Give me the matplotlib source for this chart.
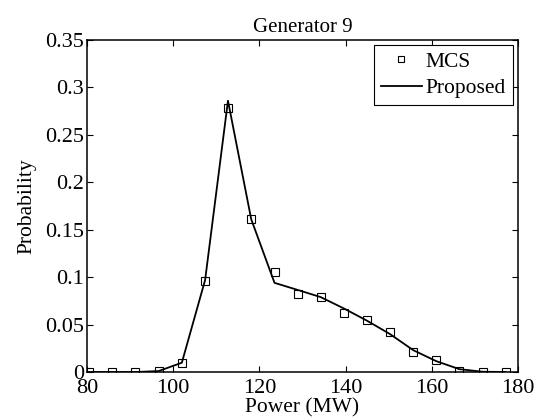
import matplotlib
matplotlib.use("Agg")
import matplotlib.pyplot as plt
from matplotlib.ticker import FormatStrFormatter

plt.rcParams.update({"font.family": "Liberation Serif", "font.size": 15.5})

# data
power = [80.5, 85.9, 91.2, 96.6, 102.0, 107.4, 112.7, 118.1, 123.5, 128.9,
         134.2, 139.6, 145.0, 150.3, 155.7, 161.0, 166.4, 171.8, 177.1]
mcs = [0, 0, 0, 0.001, 0.0098, 0.096, 0.278, 0.161, 0.105, 0.082,
       0.079, 0.062, 0.055, 0.042, 0.021, 0.013, 0.001, 0, 0]
proposed = [0, 0, 0, 0.001, 0.0098, 0.097, 0.286, 0.161, 0.094, 0.0865,
            0.079, 0.067, 0.054, 0.040, 0.023, 0.0115, 0.003, 0.0003, 0]
xticks = [80, 100, 120, 140, 160, 180]
yticks = [0, 0.05, 0.1, 0.15, 0.2, 0.25, 0.3, 0.35]

fig = plt.figure(figsize=(5.48, 4.18), dpi=100)
ax = fig.add_axes([0.1588, 0.110, 0.7865, 0.7943])

ax.plot(power, mcs, ls="none", marker="s", ms=6, mfc="none", mec="k",
        mew=0.8, label="MCS")
ax.plot(power, proposed, color="k", lw=1.3, label="Proposed")

ax.set_xlim(80, 180)
ax.set_ylim(0, 0.35)
ax.set_xticks(xticks)
ax.set_yticks(yticks)
ax.yaxis.set_major_formatter(FormatStrFormatter("%g"))
ax.tick_params(direction="in", top=True, right=True, length=4, width=0.8,
               labelsize=16, pad=2)
ax.tick_params(axis="x", pad=5)
for s in ax.spines.values():
    s.set_linewidth(1.1)

ax.set_title("Generator 9", fontsize=15, pad=6)
ax.set_xlabel("Power (MW)", fontsize=15.5, labelpad=0)
ax.set_ylabel("Probability", fontsize=15.5, labelpad=6)

leg = ax.legend(loc="upper right", fancybox=False, edgecolor="k",
                framealpha=1, borderaxespad=0.25, handlelength=1.9,
                handletextpad=0.2, borderpad=0.3, labelspacing=0.3,
                fontsize=15.5, markerscale=0.8)
leg.get_frame().set_linewidth(0.8)

fig.savefig("out.png", dpi=100)
